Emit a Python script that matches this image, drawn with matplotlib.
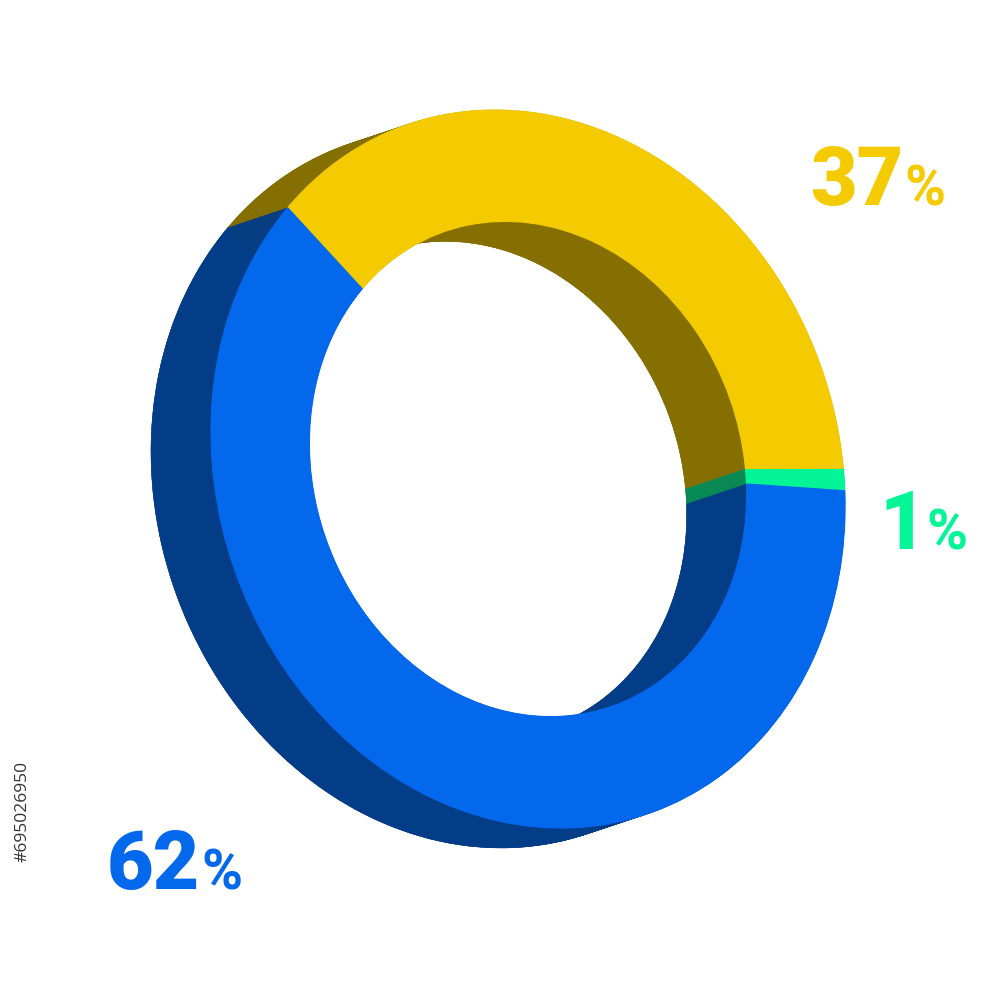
import numpy as np
import matplotlib
matplotlib.use("Agg")
import matplotlib.pyplot as plt
from matplotlib.patches import Wedge
from matplotlib.collections import PolyCollection
from matplotlib.transforms import Affine2D

labels = ["1", "37", "62"]
values = [1, 37, 62]
face_colors = ["#03F597", "#F4CA00", "#0368EC"]
side_colors = ["#078A55", "#846F00", "#033C87"]
label_font = ["Roboto", "Open Sans", "DejaVu Sans"]

plt.rcParams["font.family"] = ["Open Sans", "DejaVu Sans"]

fig = plt.figure(figsize=(10, 10), dpi=100, facecolor="white")
ax = fig.add_axes([0, 0, 1, 1])
ax.set_xlim(0, 1000)
ax.set_ylim(1000, 0)
ax.axis("off")

# oblique projection of the unit pie on to the page
cx, cy = 528, 469
M = np.array([[317.0, 0.0], [37.4, -357.0]])
front = Affine2D(np.array([[M[0, 0], M[0, 1], cx], [M[1, 0], M[1, 1], cy], [0, 0, 1]]))
dx, dy = -60, 20
back = front + Affine2D().translate(dx, dy)
r_in = 0.69
start = 2.5

edges = start + np.concatenate([[0], np.cumsum(values)]) * 3.6
spans = list(zip(edges[:-1], edges[1:]))


def wall(t1, t2, r, colour, z):
    t = np.radians(np.linspace(t1, t2, max(int(t2 - t1) * 2, 4)))
    pts = np.c_[r * np.cos(t), r * np.sin(t)]
    f = front.transform(pts)
    b = back.transform(pts)
    quads = [[f[i], f[i + 1], b[i + 1], b[i]] for i in range(len(t) - 1)]
    ax.add_collection(PolyCollection(quads, facecolors=colour, edgecolors=colour,
                                     linewidths=0.3, zorder=z))


for (t1, t2), sc in zip(spans, side_colors):
    ax.add_patch(Wedge((0, 0), 1, t1, t2, width=1 - r_in, transform=back + ax.transData,
                       facecolor=sc, edgecolor=sc, lw=0.3, zorder=1))
    wall(t1, t2, 1.0, sc, 2)
    wall(t1, t2, r_in, sc, 3)

for (t1, t2), fc in zip(spans, face_colors):
    ax.add_patch(Wedge((0, 0), 1, t1, t2, width=1 - r_in, transform=front + ax.transData,
                       facecolor=fc, edgecolor=fc, lw=0.9, zorder=4))

label_pos = [(926, 549), (903, 205), (200, 889)]
pct_pos = [(926, 549), (904, 205), (201, 889)]
for lab, fc, p, q in zip(labels, face_colors, label_pos, pct_pos):
    ax.text(p[0], p[1], lab, color=fc, fontsize=58, fontweight=900, family=label_font,
            ha="right", va="baseline", zorder=5)
    ax.text(q[0], q[1], "%", color=fc, fontsize=40, fontweight="bold", family=label_font,
            ha="left", va="baseline", zorder=5)

ax.text(23, 811, "#695026950", color="#333333", fontsize=12.5, rotation=90,
        ha="center", va="center", zorder=5)

fig.savefig("out.png", dpi=100, facecolor="white")
